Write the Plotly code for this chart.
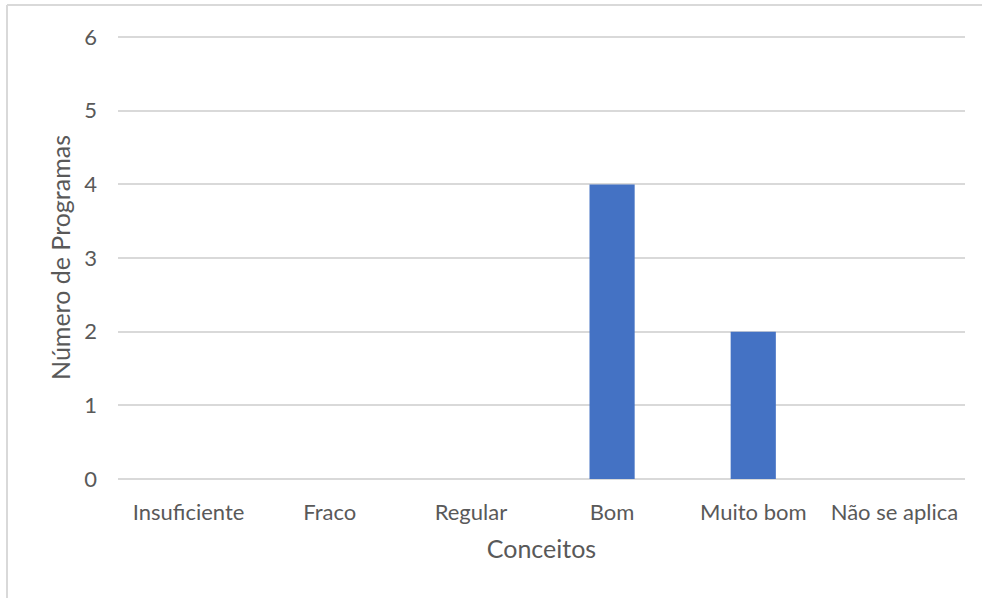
import plotly.graph_objects as go

categorias = ["Insuficiente", "Fraco", "Regular", "Bom", "Muito bom", "Não se aplica"]
programas = [0, 0, 0, 4, 2, 0]

W, H = 982, 598
L, R, T, B = 118, 17, 36, 119
pw, ph = W - L - R, H - T - B

tick_font = dict(family="Lato, 'Open Sans', sans-serif", size=22, color="#595959")
title_font = dict(family="Lato, 'Open Sans', sans-serif", size=25, color="#595959")

fig = go.Figure(go.Bar(x=categorias, y=programas, marker=dict(color="#4472C4", line=dict(width=0))))

def px_to_paper_x(px):
    return (px - L) / pw

def py_to_paper_y(py):
    return (H - B - py) / ph

fig.update_layout(
    width=W, height=H,
    margin=dict(l=L, r=R, t=T, b=B, autoexpand=False),
    paper_bgcolor="white", plot_bgcolor="white",
    bargap=0.68,
    font=tick_font,
    showlegend=False,
    xaxis=dict(
        title=dict(text="Conceitos", font=title_font, standoff=16),
        tickfont=tick_font,
        showgrid=False, zeroline=False, showline=False,
        ticks="", ticklabelstandoff=18,
    ),
    yaxis=dict(
        title=dict(text="Número de Programas", font=title_font, standoff=6),
        tickfont=tick_font,
        range=[0, 6.015], tickvals=[0, 1, 2, 3, 4, 5, 6],
        showgrid=True, gridcolor="#d9d9d9", gridwidth=1.5,
        zeroline=True, zerolinecolor="#d9d9d9", zerolinewidth=1.5,
        showline=False, ticks="", ticklabelstandoff=20,
    ),
    shapes=[
        dict(type="line", xref="paper", yref="paper",
             x0=px_to_paper_x(7), x1=px_to_paper_x(7),
             y0=py_to_paper_y(5), y1=py_to_paper_y(600),
             line=dict(color="#d9d9d9", width=2)),
        dict(type="line", xref="paper", yref="paper",
             x0=px_to_paper_x(7), x1=px_to_paper_x(984),
             y0=py_to_paper_y(5), y1=py_to_paper_y(5),
             line=dict(color="#d9d9d9", width=2)),
    ],
)

fig.write_html(
    "out.html",
    config={"displayModeBar": False},
    post_script="document.body.style.margin='0';document.body.style.overflow='hidden';",
)
